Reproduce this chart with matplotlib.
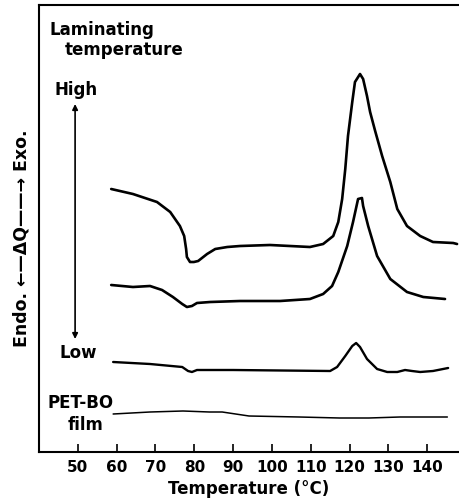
import matplotlib
matplotlib.use("Agg")
import matplotlib.pyplot as plt

# DSC traces (temperature in degC, heat flow in arbitrary units)
t_high = [58.6, 64.2, 70.4, 73.8, 76.3, 77.4, 77.9, 78.1, 78.9, 79.9, 81.0, 83.3, 85.4, 88.5,
          91.8, 99.5, 109.8, 113.2, 115.8, 117.1, 118.1, 118.9, 119.6, 120.7, 121.4, 122.7,
          123.5, 124.5, 125.3, 126.6, 128.4, 130.5, 132.3, 134.8, 138.2, 141.5, 146.7, 147.7]
q_high = [263, 258, 250, 240, 226, 216, 203, 195, 190, 190, 191, 198, 203, 205,
          206, 207, 205, 208, 216, 230, 253, 283, 316, 350, 370, 378,
          373, 356, 340, 321, 296, 270, 243, 226, 216, 210, 209, 208]

t_mid = [58.6, 64.2, 68.6, 71.7, 74.5, 76.9, 78.1, 79.4, 80.7, 84.1, 91.8, 102.1, 109.8,
         113.2, 115.5, 117.1, 119.4, 120.9, 122.2, 123.2, 123.5, 124.8, 127.1, 130.5,
         134.8, 139.0, 144.6]
q_mid = [167, 165, 166, 162, 155, 148, 145, 146, 149, 150, 151, 151, 153,
         158, 166, 180, 206, 230, 253, 254, 246, 226, 196, 173,
         160, 155, 153]

t_low = [59.1, 68.6, 76.9, 78.4, 79.4, 80.7, 90.0, 115.0, 116.8, 118.9, 120.7, 121.7, 122.7,
         124.5, 127.1, 129.7, 132.3, 134.3, 136.1, 138.2, 141.5, 145.4]
q_low = [90, 88, 85, 81, 80, 82, 82, 81, 85, 96, 106, 109, 105,
         93, 83, 80, 80, 82, 81, 80, 81, 84]

t_pet = [59.1, 68.6, 77.1, 83.9, 87.2, 94.1, 107.0, 117.4, 125.0, 133.0, 140.8, 145.2]
q_pet = [38, 40, 41, 40, 40, 36, 35, 34, 34, 35, 35, 35]

xticks = [50, 60, 70, 80, 90, 100, 110, 120, 130, 140]

fig = plt.figure(figsize=(4.59, 5.02), dpi=100)
ax = fig.add_axes([39 / 459, 49 / 502, 420 / 459, 447 / 502])

line_kw = dict(color="black", solid_joinstyle="round", solid_capstyle="round")
ax.plot(t_high, q_high, lw=1.9, **line_kw)
ax.plot(t_mid, q_mid, lw=1.9, **line_kw)
ax.plot(t_low, q_low, lw=1.7, **line_kw)
ax.plot(t_pet, q_pet, lw=1.1, **line_kw)

ax.set_xlim(40, 148.2)
ax.set_ylim(0, 447)
ax.set_xticks(xticks)
ax.set_xticklabels([str(t) for t in xticks], fontsize=11, fontweight="bold")
ax.set_yticks([])
ax.tick_params(axis="x", direction="in", length=6, width=1.2, pad=5)
ax.spines["right"].set_visible(False)
for s in ["left", "bottom", "top"]:
    ax.spines[s].set_linewidth(1.5)
ax.set_xlabel("Temperature (°C)", fontsize=12, fontweight="bold", labelpad=4)

bold = dict(fontsize=12, fontweight="bold", va="center", ha="left")
ax.text(42.8, 423, "Laminating", **bold)
ax.text(46.7, 403, "temperature", **bold)
ax.text(44.1, 363, "High", **bold)
ax.text(45.4, 100, "Low", **bold)
ax.text(42.1, 50, "PET-BO", **bold)
ax.text(47.5, 28, "film", **bold)
ax.annotate("", xy=(49.3, 348), xytext=(49.3, 113),
            arrowprops=dict(arrowstyle="<|-|>", color="black", lw=1.2,
                            mutation_scale=8, shrinkA=0, shrinkB=0))

fig.text(22 / 459, 1 - 238 / 502, "Endo. \u2190\u2014\u0394Q\u2014\u2014\u2192 Exo.",
         rotation=90, fontsize=12.5, fontweight="bold", ha="center", va="center")

fig.savefig("out.png", dpi=100)
